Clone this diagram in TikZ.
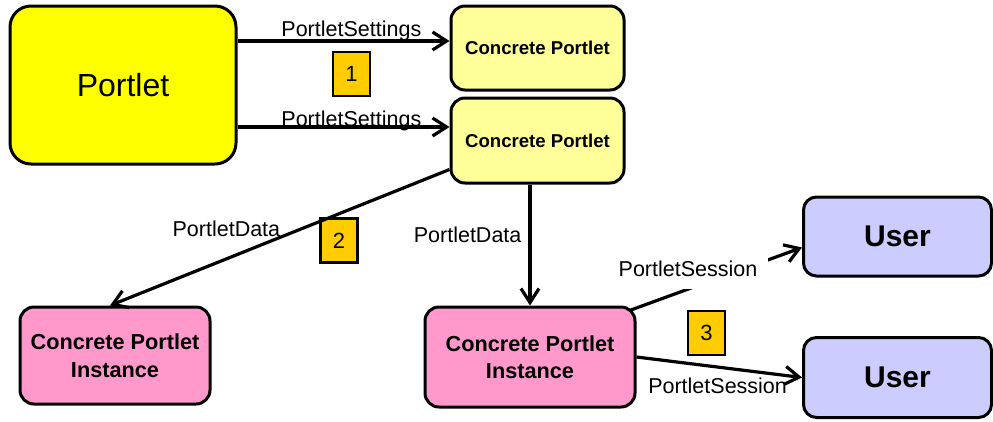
\documentclass[tikz,border=0pt]{standalone}
\usepackage{fontspec}
\setmainfont{Liberation Sans}
\usetikzlibrary{arrows.meta}
\definecolor{portletyellow}{HTML}{FFFF00}
\definecolor{concreteyellow}{HTML}{FFFF99}
\definecolor{instancepink}{HTML}{FF99CC}
\definecolor{userblue}{HTML}{CCCCFF}
\definecolor{stepgold}{HTML}{FFCC00}
\tikzset{>={Straight Barb[length=14pt,width=18pt]}}

\begin{document}
\begin{tikzpicture}[x=1pt,y=-1pt,line width=3.2pt,
    box/.style={draw,line width=3pt,rounded corners=14pt,align=center,inner sep=0pt},
    numbox/.style={draw,fill=stepgold,line width=2.4pt,minimum width=37pt,minimum height=44pt,
        font=\fontsize{22}{26}\selectfont},
    lbl/.style={font=\fontsize{21.5}{26}\selectfont,inner sep=0pt}]
    \useasboundingbox (0,0) rectangle (993,421);
    % boxes
    \node[box,fill=portletyellow,rounded corners=21pt,minimum width=226pt,minimum height=158pt,
        font=\fontsize{32}{36}\selectfont] (portlet) at (123,85) {Portlet};
    \node[box,fill=concreteyellow,minimum width=173pt,minimum height=84pt,
        font=\bfseries\fontsize{18.6}{22}\selectfont] (cp1) at (537.5,48) {Concrete Portlet};
    \node[box,fill=concreteyellow,minimum width=173pt,minimum height=85pt,
        font=\bfseries\fontsize{18.6}{22}\selectfont] (cp2) at (537.5,140.5) {Concrete Portlet};
    \node[box,fill=instancepink,minimum width=190pt,minimum height=97pt,
        font=\bfseries\fontsize{21.7}{27.5}\selectfont] (inst1) at (115,355.5) {Concrete Portlet\\Instance};
    \node[box,fill=instancepink,minimum width=210pt,minimum height=100pt,
        font=\bfseries\fontsize{21.7}{27.5}\selectfont] (inst2) at (530,357) {Concrete Portlet\\Instance};
    \node[box,fill=userblue,rounded corners=13pt,minimum width=188pt,minimum height=79pt,
        font=\bfseries\fontsize{30}{34}\selectfont] (user1) at (897.5,236.5) {User};
    \node[box,fill=userblue,rounded corners=13pt,minimum width=188pt,minimum height=80pt,
        font=\bfseries\fontsize{30}{34}\selectfont] (user2) at (897.5,377.5) {User};
    % steps
    \node[numbox] (one) at (351.5,74) {1};
    \node[numbox] (two) at (339,240.5) {2};
    \node[numbox] (three) at (706.5,333) {3};
    % connectors
    \draw[->] ([yshift=44pt]portlet.east) -- ([yshift=7pt]cp1.west)
        node[lbl,pos=0.537,anchor=base,yshift=5pt] {PortletSettings};
    \draw[->] ([yshift=-42pt]portlet.east) -- ([yshift=13.5pt]cp2.west)
        node[lbl,pos=0.537,anchor=base,yshift=1pt] {PortletSettings};
    \draw[->] ([yshift=15pt]cp2.south west) -- ([xshift=-5pt]inst1.north)
        node[lbl,pos=0.494,anchor=base east] {PortletData};
    \draw[->] (cp2.south -| inst2.north) -- (inst2.north)
        node[lbl,pos=0.48,anchor=base east,xshift=-7pt] {PortletData};
    \draw[->] ([shift={(-7pt,-5pt)}]inst2.north east) -- ([yshift=-11pt]user1.west)
        node[lbl,fill=white,inner xsep=11pt,inner ysep=12pt,pos=0.339,anchor=base,yshift=12.7pt] {PortletSession};
    \draw[->] (inst2.east) -- (user2.west)
        node[lbl,pos=0.49,anchor=base,yshift=-26pt] {PortletSession};
\end{tikzpicture}
\end{document}
